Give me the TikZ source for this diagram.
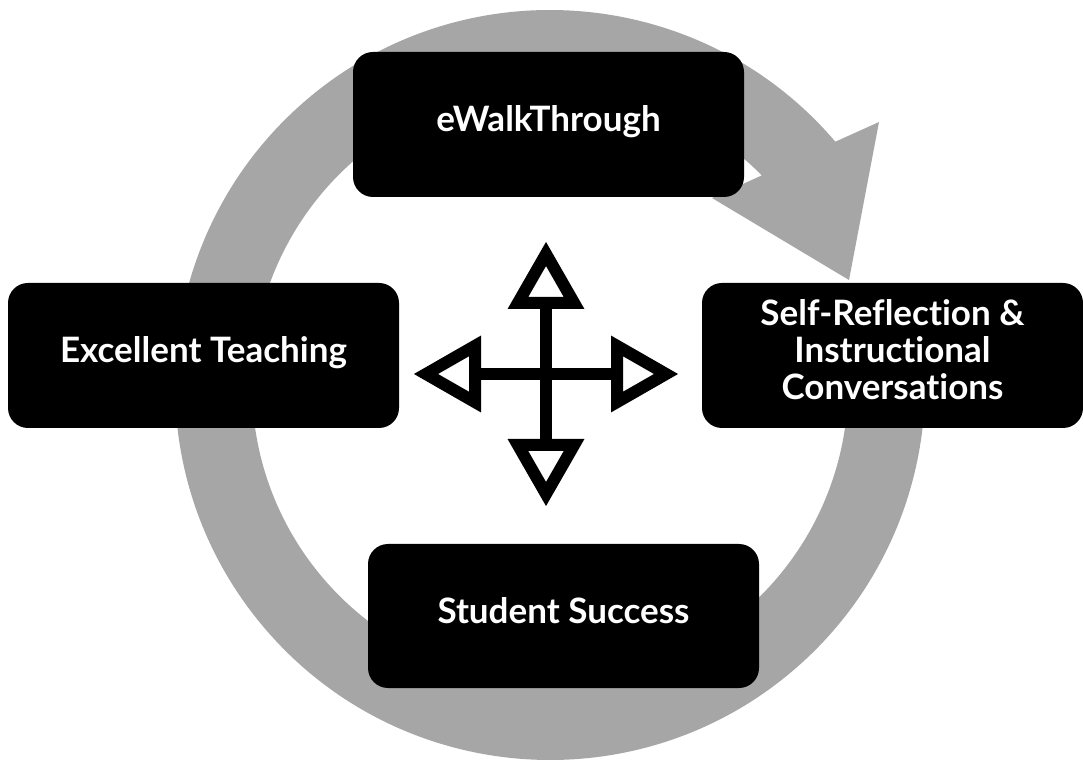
\documentclass[tikz,border=0pt]{standalone}
\usepackage{fontspec}
\setmainfont{Lato}[Ligatures={NoCommon,NoRare}]
\usetikzlibrary{calc}
\definecolor{ringgray}{RGB}{166,166,166}
\begin{document}
\begin{tikzpicture}[x=1pt,y=1pt,
  stage/.style={rectangle, rounded corners=20pt, fill=black, text=white, inner sep=0pt,
    minimum width=391pt, minimum height=145pt,
    font=\bfseries\fontsize{35}{37.5}\selectfont, align=center},
  oneline/.style={text height=27pt, text depth=12pt},
  crossline/.style={line width=12pt, draw=black, line join=miter}]
\useasboundingbox (0,0) rectangle (1083,763);
\fill[white] (0,0) rectangle (1083,763);
\coordinate (O) at (550,378);
% circular arrow
\fill[ringgray] ([shift={(40.45:375pt)}]O) arc[start angle=40.45, end angle=365, radius=375pt]
  -- ([shift={(365:298pt)}]O) arc[start angle=365, end angle=44.7, radius=298pt]
  -- (712,565) -- (849,483) -- (879,641) -- cycle;
% stages
\node[stage, oneline] (walk) at (548.5,638.5) {eWalkThrough};
\node[stage, oneline] (teach) at (203.5,407.5) {Excellent Teaching};
\node[stage, minimum width=381pt] (reflect) at (892.5,407.5)
  {Self-Reflection \&\\Instructional\\Conversations\rule[-12pt]{0pt}{12pt}};
\node[stage, oneline, minimum height=144pt] (success) at (563.5,147) {Student Success};
% central cross of arrows
\coordinate (C) at (546,389);
\draw[crossline] ([xshift=-71pt]C) -- ([xshift=71pt]C);
\draw[crossline] ([yshift=-71pt]C) -- ([yshift=71pt]C);
\foreach \a in {0,90,180,270}{
  \draw[crossline, shift={(C)}, rotate=\a] (71,28.1) -- (120,0) -- (71,-28.1) -- cycle;
}
\end{tikzpicture}
\end{document}
